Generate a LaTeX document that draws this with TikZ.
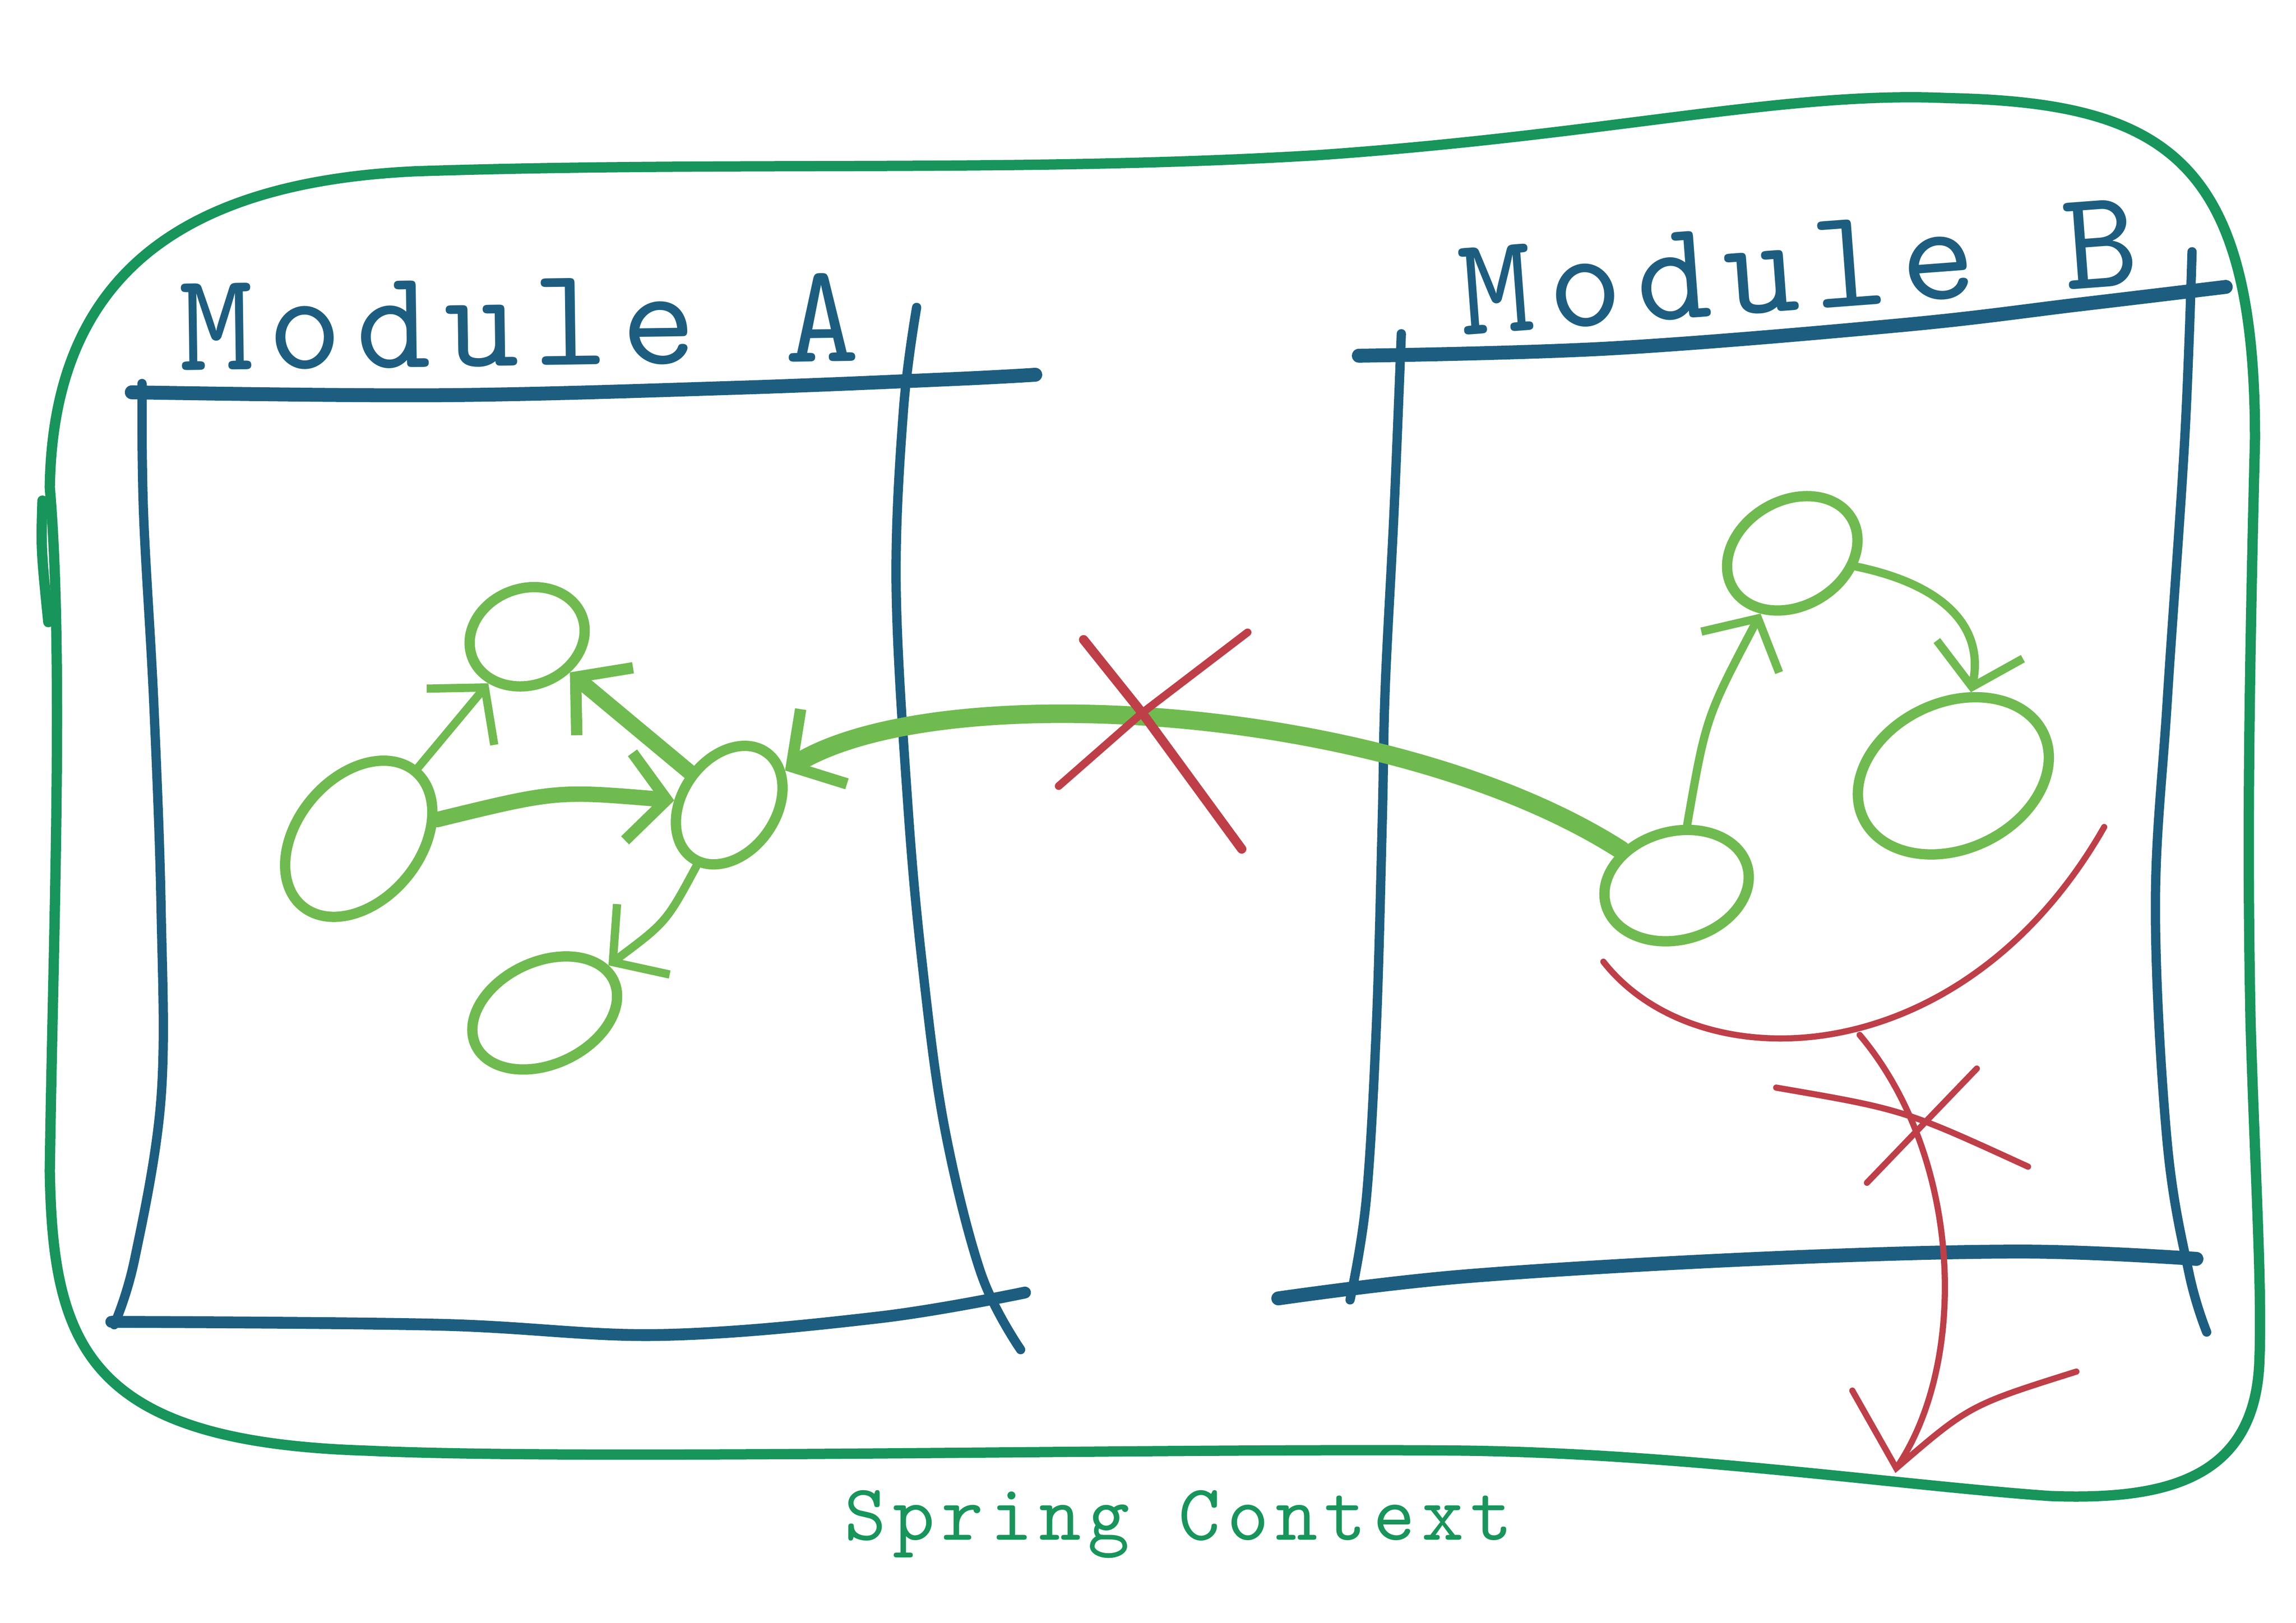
\documentclass[tikz,border=0pt]{standalone}
\usepackage{fontspec}
\newfontfamily\titlefont[LetterSpace=10]{lmmono10-regular.otf}
\newfontfamily\ctxfont[LetterSpace=8.5]{lmmono10-regular.otf}
\usetikzlibrary{shapes,arrows.meta,positioning,calc}

\definecolor{modblue}{HTML}{1D5E80}
\definecolor{ctxgreen}{HTML}{17955A}
\definecolor{beangreen}{HTML}{6FBB4F}
\definecolor{clashred}{HTML}{BE3F48}

\tikzset{
    modline/.style={modblue, line cap=round, line width=2.7pt},
    modside/.style={modblue, line cap=round, line width=1.8pt},
    bean/.style={ellipse, draw=beangreen, line width=2pt, inner sep=0pt},
    wire/.style={beangreen, line width=1.6pt, line cap=round, -{Straight Barb[length=2.6mm,width=6mm,line width=1.6pt]}},
    heavywire/.style={beangreen, line width=3pt, line cap=round, -{Straight Barb[length=2.6mm,width=6mm,line width=2.2pt]}},
    clash/.style={clashred, line width=1.2pt, line cap=round},
    modtitle/.style={inner sep=0pt, anchor=base west, font=\titlefont\fontsize{27.5}{30}\selectfont},
}

\begin{document}
\begin{tikzpicture}[x=0.01cm, y=-0.01cm]
    \useasboundingbox (0,0) rectangle (1568,1108.75);

    % Spring context
    \draw[ctxgreen, line width=2pt, line cap=round] (34,333)
        .. controls (36,200) and (110,125) .. (284,117)
        .. controls (500,110) and (700,118) .. (900,106)
        .. controls (1100,92) and (1220,62) .. (1330,67)
        .. controls (1480,70) and (1540,110) .. (1540,300)
        .. controls (1535,500) and (1535,600) .. (1537,700)
        .. controls (1540,800) and (1545,880) .. (1543,930)
        .. controls (1540,1010) and (1480,1025) .. (1400,1022)
        .. controls (1300,1015) and (1150,993) .. (1000,991)
        .. controls (800,989) and (400,998) .. (250,991)
        .. controls (60,985) and (36,920) .. (34,800)
        .. controls (36,650) and (44,450) .. (34,333);
    \draw[ctxgreen, line width=2pt, line cap=round] (29,342) .. controls (28,375) .. (33,425);
    \node[inner sep=0pt, anchor=base west, ctxgreen, font=\ctxfont\fontsize{15.5}{17}\selectfont] (ctx) at (576,1052) {Spring Context};

    % Module A
    \draw[modline] plot[smooth, tension=0.6] coordinates {(90,268) (300,270) (500,265) (650,259) (707,256)};
    \draw[modside] plot[smooth, tension=0.6] coordinates {(97,262) (98,350) (105,480) (110,620) (110,750) (92,860) (78,905)};
    \draw[modline, line width=2.3pt] plot[smooth, tension=0.6] coordinates {(76,903) (300,905) (450,912) (600,900) (700,883)};
    \draw[modside] plot[smooth, tension=0.6] coordinates {(626,210) (617,280) (612,400) (620,550) (630,660) (645,770) (670,870) (697,922)};
    \node[modtitle, modblue, rotate=0.8] (titleA) at (122,253) {Module A};

    % Module B
    \draw[modline] plot[smooth, tension=0.6] coordinates {(928,243) (1100,238) (1300,222) (1420,208) (1520,196)};
    \draw[modside] plot[smooth, tension=0.6] coordinates {(957,228) (952,350) (946,470) (944,560) (940,700) (933,820) (922,888)};
    \draw[modline] plot[smooth, tension=0.6] coordinates {(873,887) (1000,872) (1200,860) (1380,855) (1500,860)};
    \draw[modside] plot[smooth, tension=0.6] coordinates {(1497,172) (1492,300) (1480,480) (1472,620) (1480,780) (1495,870) (1507,910)};
    \node[modtitle, modblue, rotate=4.3] (titleB) at (998,229) {Module B};

    % Beans of module A
    \node[bean, minimum width=1.2cm, minimum height=0.84cm, rotate=50] (a1) at (245,573) {};
    \node[bean, minimum width=0.8cm, minimum height=0.66cm, rotate=20] (a2) at (360,435) {};
    \node[bean, minimum width=0.88cm, minimum height=0.64cm, rotate=55] (a3) at (498,550) {};
    \node[bean, minimum width=1.04cm, minimum height=0.7cm, rotate=25] (a4) at (372,692) {};

    % Beans of module B
    \node[bean, minimum width=1.0cm, minimum height=0.74cm, rotate=15] (b1) at (1145,605) {};
    \node[bean, minimum width=0.94cm, minimum height=0.72cm, rotate=30] (b2) at (1224,378) {};
    \node[bean, minimum width=1.36cm, minimum height=1.0cm, rotate=25] (b3) at (1334,530) {};

    % Wiring
    \draw[wire] (a1) -- (a2);
    \draw[heavywire] (a3) -- (a2);
    \draw[heavywire] (a1) .. controls (380,540) .. (a3);
    \draw[wire] (a3) .. controls (455,630) .. (a4);
    \draw[wire] (b1) .. controls (1165,490) .. (b2);
    \draw[wire] (b2) .. controls (1330,400) and (1355,430) .. (b3);
    \draw[heavywire, line width=3.6pt] (b1) .. controls (950,480) and (640,462) .. (a3);

    % Forbidden links
    \coordinate (cutA) at (780,487);
    \draw[clash, line width=1.8pt] (740,437) -- (cutA) -- (848,580);
    \draw[clash, line width=1.5pt] (852,432) -- (cutA) -- (723,537);
    \draw[clash] (1095,657) .. controls (1160,740) and (1340,735) .. (1437,565);
    \coordinate (leak) at (1270,707);
    \coordinate (ctxedge) at (1295,1003);
    \draw[clash] (leak) .. controls (1340,790) and (1345,930) .. (ctxedge);
    \draw[clash] (1265,950) -- (ctxedge) .. controls (1345,960) .. (1418,937);
    \draw[clash] (1213,743) .. controls (1300,758) .. (1385,797);
    \draw[clash] (1350,730) -- (1275,808);
\end{tikzpicture}
\end{document}
